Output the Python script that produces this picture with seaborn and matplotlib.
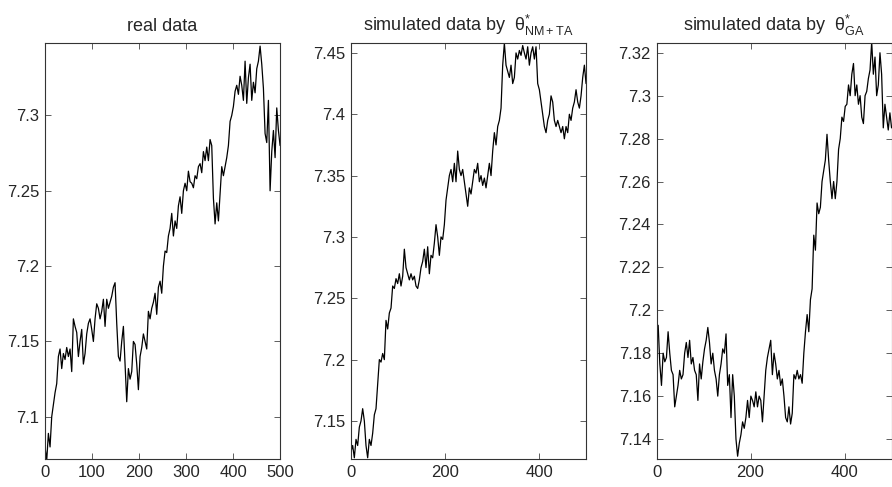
import numpy as np
import pandas as pd
import seaborn as sns
import matplotlib.pyplot as plt
from matplotlib.ticker import FormatStrFormatter

# log prices, evenly spaced over days 0..500
real = [
    7.080, 7.071, 7.089, 7.080, 7.100, 7.108, 7.116, 7.122, 7.140, 7.145,
    7.132, 7.142, 7.138, 7.146, 7.140, 7.145, 7.130, 7.165, 7.160, 7.156,
    7.140, 7.150, 7.158, 7.135, 7.142, 7.155, 7.162, 7.165, 7.158, 7.150,
    7.165, 7.175, 7.172, 7.165, 7.170, 7.178, 7.160, 7.178, 7.172, 7.176,
    7.180, 7.186, 7.189, 7.162, 7.140, 7.137, 7.150, 7.160, 7.135, 7.110,
    7.132, 7.125, 7.130, 7.150, 7.148, 7.135, 7.118, 7.140, 7.146, 7.155,
    7.150, 7.145, 7.170, 7.165, 7.172, 7.176, 7.182, 7.168, 7.186, 7.190,
    7.182, 7.200, 7.210, 7.209, 7.220, 7.225, 7.235, 7.220, 7.230, 7.225,
    7.240, 7.246, 7.235, 7.250, 7.255, 7.250, 7.263, 7.256, 7.255, 7.252,
    7.260, 7.258, 7.266, 7.268, 7.262, 7.276, 7.270, 7.279, 7.270, 7.284,
    7.280, 7.245, 7.228, 7.242, 7.230, 7.248, 7.266, 7.260, 7.266, 7.272,
    7.280, 7.296, 7.300, 7.306, 7.316, 7.320, 7.314, 7.326, 7.320, 7.310,
    7.336, 7.308, 7.325, 7.334, 7.310, 7.322, 7.315, 7.331, 7.336, 7.346,
    7.334, 7.318, 7.288, 7.282, 7.310, 7.250, 7.276, 7.290, 7.272, 7.305,
    7.290, 7.280,
]

sim_nmta = [
    7.125, 7.130, 7.120, 7.135, 7.130, 7.145, 7.150, 7.160, 7.150, 7.130,
    7.120, 7.135, 7.130, 7.140, 7.155, 7.160, 7.180, 7.200, 7.198, 7.205,
    7.200, 7.232, 7.225, 7.238, 7.242, 7.260, 7.258, 7.266, 7.262, 7.270,
    7.260, 7.268, 7.290, 7.275, 7.270, 7.265, 7.270, 7.265, 7.268, 7.260,
    7.258, 7.265, 7.275, 7.280, 7.290, 7.275, 7.292, 7.270, 7.285, 7.283,
    7.295, 7.310, 7.300, 7.285, 7.300, 7.298, 7.310, 7.330, 7.340, 7.350,
    7.355, 7.345, 7.360, 7.345, 7.370, 7.355, 7.350, 7.355, 7.345, 7.335,
    7.325, 7.340, 7.335, 7.345, 7.355, 7.352, 7.360, 7.345, 7.350, 7.342,
    7.348, 7.340, 7.350, 7.360, 7.350, 7.370, 7.385, 7.375, 7.390, 7.395,
    7.405, 7.440, 7.458, 7.440, 7.435, 7.430, 7.440, 7.425, 7.430, 7.450,
    7.445, 7.452, 7.448, 7.456, 7.450, 7.445, 7.455, 7.440, 7.450, 7.455,
    7.445, 7.455, 7.425, 7.420, 7.410, 7.400, 7.390, 7.385, 7.395, 7.400,
    7.415, 7.410, 7.395, 7.390, 7.395, 7.390, 7.385, 7.390, 7.380, 7.390,
    7.385, 7.400, 7.395, 7.405, 7.410, 7.420, 7.410, 7.405, 7.415, 7.430,
    7.440, 7.425,
]

sim_ga = [
    7.190, 7.193, 7.175, 7.165, 7.180, 7.176, 7.178, 7.190, 7.180, 7.172,
    7.170, 7.155, 7.160, 7.165, 7.172, 7.168, 7.170, 7.180, 7.185, 7.178,
    7.186, 7.175, 7.178, 7.172, 7.170, 7.158, 7.175, 7.168, 7.176, 7.182,
    7.186, 7.192, 7.185, 7.175, 7.180, 7.172, 7.168, 7.160, 7.170, 7.175,
    7.182, 7.180, 7.189, 7.165, 7.170, 7.150, 7.170, 7.160, 7.140, 7.132,
    7.138, 7.142, 7.148, 7.145, 7.150, 7.158, 7.150, 7.160, 7.158, 7.155,
    7.162, 7.155, 7.160, 7.158, 7.148, 7.160, 7.172, 7.178, 7.182, 7.186,
    7.170, 7.180, 7.175, 7.168, 7.172, 7.165, 7.168, 7.160, 7.150, 7.148,
    7.155, 7.147, 7.152, 7.170, 7.168, 7.172, 7.168, 7.170, 7.166, 7.180,
    7.190, 7.198, 7.190, 7.205, 7.210, 7.235, 7.228, 7.250, 7.245, 7.248,
    7.260, 7.265, 7.270, 7.282, 7.270, 7.260, 7.252, 7.260, 7.252, 7.260,
    7.275, 7.280, 7.290, 7.288, 7.295, 7.296, 7.305, 7.300, 7.310, 7.315,
    7.300, 7.305, 7.296, 7.300, 7.290, 7.287, 7.300, 7.302, 7.308, 7.312,
    7.325, 7.310, 7.318, 7.300, 7.305, 7.320, 7.310, 7.285, 7.296, 7.290,
    7.284, 7.292, 7.285,
]

titles = ["real data",
          r"simulated data by  $\mathrm{\theta}^{*}_{\rm NM+TA}$",
          r"simulated data by  $\mathrm{\theta}^{*}_{\rm GA}$"]
series = [real, sim_nmta, sim_ga]
ylims = [(7.072, 7.348), (7.119, 7.458), (7.1307, 7.3245)]
yticks = [[7.1, 7.15, 7.2, 7.25, 7.3],
          [7.15, 7.2, 7.25, 7.3, 7.35, 7.4, 7.45],
          [7.14, 7.16, 7.18, 7.2, 7.22, 7.24, 7.26, 7.28, 7.3, 7.32]]
xticks = [[0, 100, 200, 300, 400, 500], [0, 200, 400], [0, 200, 400]]

sns.set_style("ticks")
plt.rcParams["font.family"] = ["Liberation Sans", "DejaVu Sans"]
plt.rcParams["mathtext.fontset"] = "custom"
plt.rcParams["mathtext.rm"] = "Liberation Sans"
plt.rcParams["mathtext.it"] = "Liberation Sans:italic"
plt.rcParams["xtick.direction"] = "in"
plt.rcParams["ytick.direction"] = "in"

fig = plt.figure(figsize=(8.92, 4.87), dpi=100)
lefts = [0.0505, 0.3935, 0.736]

for i in range(3):
    ax = fig.add_axes([lefts[i], 0.0575, 0.2635, 0.854])
    df = pd.DataFrame({"day": np.linspace(0, 500, len(series[i])), "value": series[i]})
    sns.lineplot(data=df, x="day", y="value", ax=ax, color="black", linewidth=0.9)
    ax.set_xlim(0, 500)
    ax.set_ylim(*ylims[i])
    ax.set_xticks(xticks[i])
    ax.set_yticks(yticks[i])
    ax.yaxis.set_major_formatter(FormatStrFormatter("%g"))
    ax.tick_params(top=True, right=True, labelsize=12, length=4, width=0.6,
                   color="#444444", pad=4)
    for s in ax.spines.values():
        s.set_linewidth(0.8)
        s.set_color("#333333")
    ax.set_xlabel("")
    ax.set_ylabel("")
    ax.set_title(titles[i], fontsize=13, pad=9)

fig.savefig("out.png", dpi=100)
